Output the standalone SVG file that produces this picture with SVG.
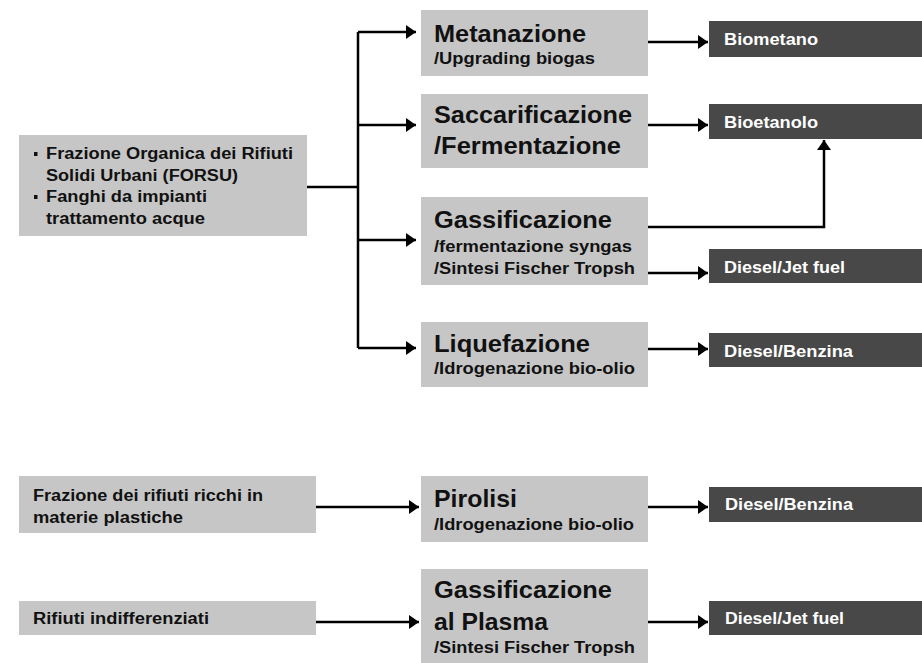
<svg xmlns="http://www.w3.org/2000/svg" width="922" height="663" viewBox="0 0 922 663">
<defs>
<style>
.lb{fill:#c6c6c6}
.db{fill:#484848}
.t{font-family:"Liberation Sans",Arial,sans-serif;font-weight:bold;fill:#111}
.big{font-size:24px}
.sub{font-size:16px}
.src{font-size:16px}
.out{font-size:16px;fill:#fff}
.c{fill:none;stroke:#000;stroke-width:2.5}
</style>
<marker id="ah" markerUnits="userSpaceOnUse" markerWidth="12" markerHeight="14" refX="10" refY="7" orient="auto">
<path d="M0,0 L10,7 L0,14 Z" fill="#000"/>
</marker>
</defs>
<rect width="922" height="663" fill="#fff"/>

<g id="connectors">
<path class="c" d="M307,187 H358"/>
<path class="c" d="M358,32 V348"/>
<path class="c" d="M358,32 H416" marker-end="url(#ah)"/>
<path class="c" d="M358,125 H416" marker-end="url(#ah)"/>
<path class="c" d="M358,240 H416" marker-end="url(#ah)"/>
<path class="c" d="M358,348 H416" marker-end="url(#ah)"/>
<path class="c" d="M648,42 H708" marker-end="url(#ah)"/>
<path class="c" d="M648,125 H708" marker-end="url(#ah)"/>
<path class="c" d="M648,227 H824 V140" marker-end="url(#ah)"/>
<path class="c" d="M648,273 H708" marker-end="url(#ah)"/>
<path class="c" d="M648,349 H708" marker-end="url(#ah)"/>
<path class="c" d="M316,507 H419" marker-end="url(#ah)"/>
<path class="c" d="M648,507 H708" marker-end="url(#ah)"/>
<path class="c" d="M316,622 H419" marker-end="url(#ah)"/>
<path class="c" d="M648,622 H708" marker-end="url(#ah)"/>
</g>

<g id="src-forsu">
<rect class="lb" x="19" y="135" width="288" height="101"/>
<rect x="34" y="152" width="3.5" height="4" fill="#111"/>
<rect x="34" y="195" width="3.5" height="4" fill="#111"/>
<text class="t src" x="46" y="159" textLength="247" lengthAdjust="spacingAndGlyphs">Frazione Organica dei Rifiuti</text>
<text class="t src" x="46" y="181" textLength="192" lengthAdjust="spacingAndGlyphs">Solidi Urbani (FORSU)</text>
<text class="t src" x="46" y="202" textLength="161" lengthAdjust="spacingAndGlyphs">Fanghi da impianti</text>
<text class="t src" x="46" y="224" textLength="159" lengthAdjust="spacingAndGlyphs">trattamento acque</text>
</g>

<g id="src-plastica">
<rect class="lb" x="19" y="476" width="297" height="57"/>
<text class="t src" x="33" y="501" textLength="230" lengthAdjust="spacingAndGlyphs">Frazione dei rifiuti ricchi in</text>
<text class="t src" x="33" y="523" textLength="150" lengthAdjust="spacingAndGlyphs">materie plastiche</text>
</g>

<g id="src-indiff">
<rect class="lb" x="19" y="601" width="297" height="34"/>
<text class="t src" x="33" y="624" textLength="176" lengthAdjust="spacingAndGlyphs">Rifiuti indifferenziati</text>
</g>

<g id="p-metanazione">
<rect class="lb" x="421" y="10" width="227" height="66"/>
<text class="t big" x="434" y="42" textLength="152" lengthAdjust="spacingAndGlyphs">Metanazione</text>
<text class="t sub" x="434" y="64" textLength="161" lengthAdjust="spacingAndGlyphs">/Upgrading biogas</text>
</g>

<g id="p-saccarificazione">
<rect class="lb" x="421" y="94" width="227" height="74"/>
<text class="t big" x="434" y="123" textLength="198" lengthAdjust="spacingAndGlyphs">Saccarificazione</text>
<text class="t big" x="434" y="154" textLength="187" lengthAdjust="spacingAndGlyphs">/Fermentazione</text>
</g>

<g id="p-gassificazione">
<rect class="lb" x="421" y="197" width="227" height="88"/>
<text class="t big" x="434" y="228" textLength="178" lengthAdjust="spacingAndGlyphs">Gassificazione</text>
<text class="t sub" x="434" y="252" textLength="198" lengthAdjust="spacingAndGlyphs">/fermentazione syngas</text>
<text class="t sub" x="434" y="274" textLength="201" lengthAdjust="spacingAndGlyphs">/Sintesi Fischer Tropsh</text>
</g>

<g id="p-liquefazione">
<rect class="lb" x="421" y="322" width="227" height="65"/>
<text class="t big" x="434" y="352" textLength="156" lengthAdjust="spacingAndGlyphs">Liquefazione</text>
<text class="t sub" x="434" y="374" textLength="201" lengthAdjust="spacingAndGlyphs">/Idrogenazione bio-olio</text>
</g>

<g id="p-pirolisi">
<rect class="lb" x="421" y="476" width="227" height="66"/>
<text class="t big" x="434" y="507" textLength="83" lengthAdjust="spacingAndGlyphs">Pirolisi</text>
<text class="t sub" x="434" y="530" textLength="200" lengthAdjust="spacingAndGlyphs">/Idrogenazione bio-olio</text>
</g>

<g id="p-plasma">
<rect class="lb" x="421" y="569" width="227" height="94"/>
<text class="t big" x="434" y="598" textLength="178" lengthAdjust="spacingAndGlyphs">Gassificazione</text>
<text class="t big" x="434" y="630" textLength="114" lengthAdjust="spacingAndGlyphs">al Plasma</text>
<text class="t sub" x="434" y="653" textLength="201" lengthAdjust="spacingAndGlyphs">/Sintesi Fischer Tropsh</text>
</g>

<g id="o-biometano">
<rect class="db" x="709" y="21" width="213" height="36"/>
<text class="t out" x="724" y="45" textLength="94" lengthAdjust="spacingAndGlyphs">Biometano</text>
</g>

<g id="o-bioetanolo">
<rect class="db" x="709" y="104" width="213" height="35"/>
<text class="t out" x="724" y="128" textLength="94" lengthAdjust="spacingAndGlyphs">Bioetanolo</text>
</g>

<g id="o-dieseljet1">
<rect class="db" x="709" y="249" width="213" height="34"/>
<text class="t out" x="724" y="273" textLength="121" lengthAdjust="spacingAndGlyphs">Diesel/Jet fuel</text>
</g>

<g id="o-dieselbenz1">
<rect class="db" x="709" y="333" width="213" height="34"/>
<text class="t out" x="724" y="357" textLength="129" lengthAdjust="spacingAndGlyphs">Diesel/Benzina</text>
</g>

<g id="o-dieselbenz2">
<rect class="db" x="709" y="487" width="213" height="35"/>
<text class="t out" x="725" y="510" textLength="128" lengthAdjust="spacingAndGlyphs">Diesel/Benzina</text>
</g>

<g id="o-dieseljet2">
<rect class="db" x="709" y="601" width="213" height="34"/>
<text class="t out" x="725" y="624" textLength="119" lengthAdjust="spacingAndGlyphs">Diesel/Jet fuel</text>
</g>
</svg>
